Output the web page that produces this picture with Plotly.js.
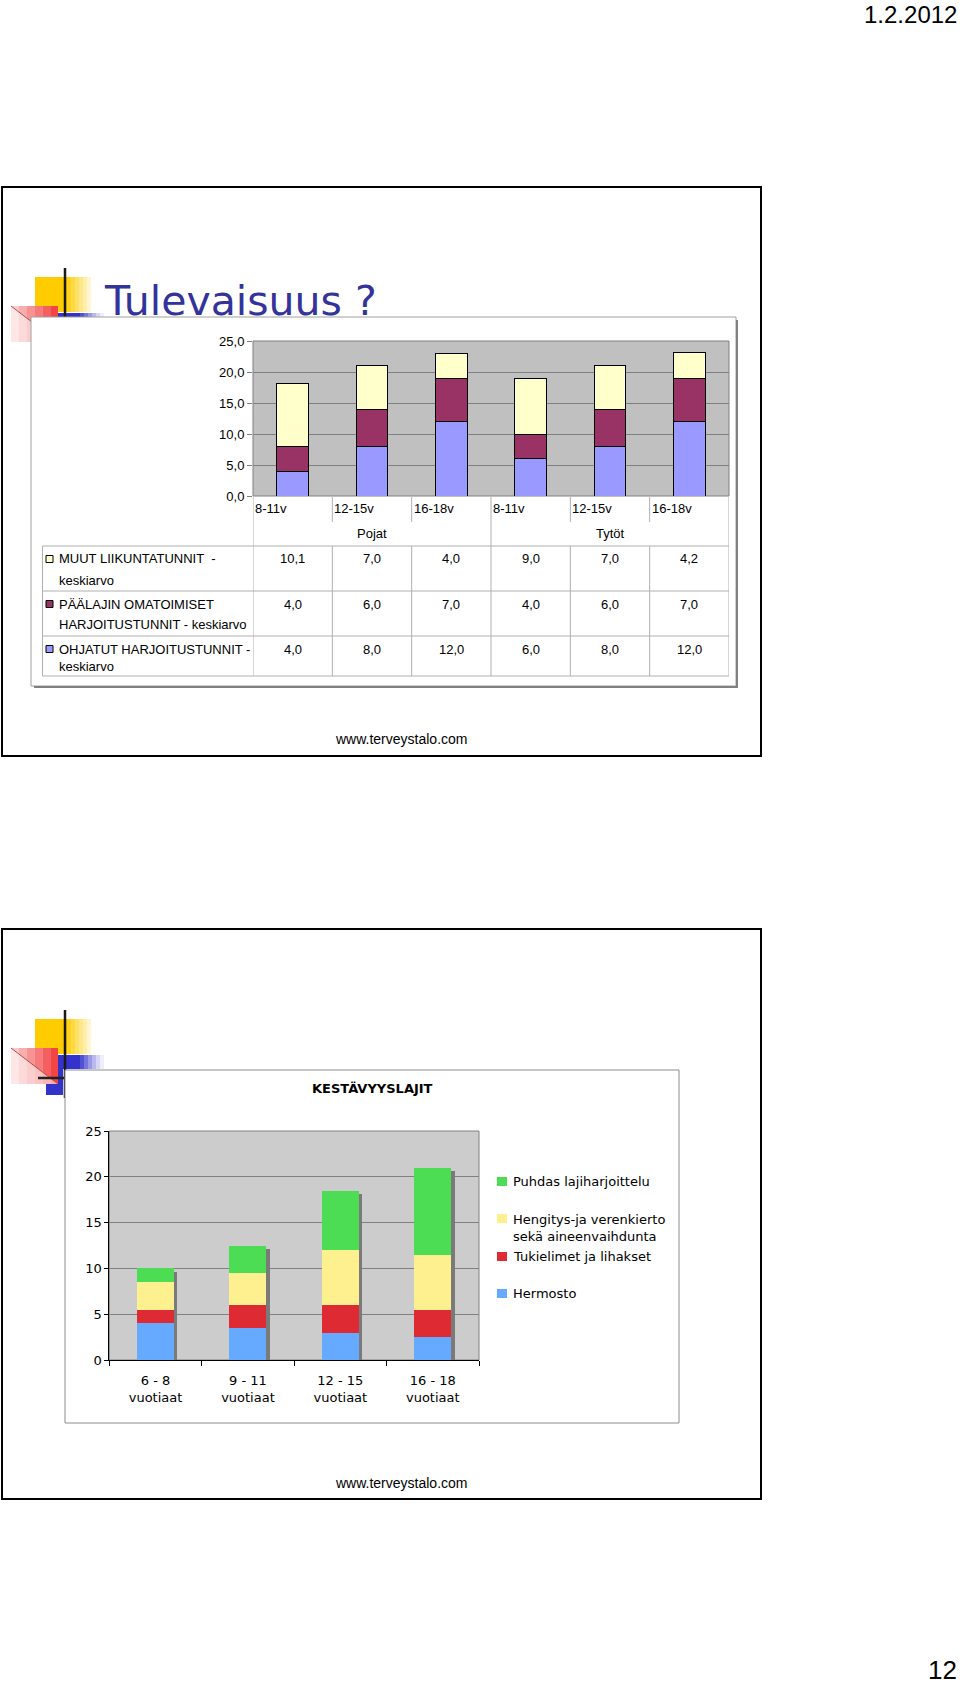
<!DOCTYPE html>
<html><head><meta charset="utf-8">
<script src="https://cdn.plot.ly/plotly-3.0.1.min.js"></script>
<style>html,body{margin:0;padding:0;background:#fff}#chart{width:960px;height:1684px}</style>
</head><body><div id="chart"></div>
<script>
// ---------- Chart 1 data (Tulevaisuus ?) ----------
const c1Categories = ['8-11v', '12-15v', '16-18v', '8-11v', '12-15v', '16-18v'];
const c1Groups = ['Pojat', 'Tytöt'];
const c1Muut = [10.1, 7.0, 4.0, 9.0, 7.0, 4.2];
const c1Paalajin = [4.0, 6.0, 7.0, 4.0, 6.0, 7.0];
const c1Ohjatut = [4.0, 8.0, 12.0, 6.0, 8.0, 12.0];
const c1RowLabels = [
  ['MUUT LIIKUNTATUNNIT  -', 'keskiarvo'],
  ['PÄÄLAJIN OMATOIMISET', 'HARJOITUSTUNNIT - keskiarvo'],
  ['OHJATUT HARJOITUSTUNNIT -', 'keskiarvo']
];
const c1YTicks = [0, 5, 10, 15, 20, 25];

// ---------- Chart 2 data (KESTÄVYYSLAJIT) ----------
const c2Categories = ['6 - 8<br>vuotiaat', '9 - 11<br>vuotiaat', '12 - 15<br>vuotiaat', '16 - 18<br>vuotiaat'];
const c2Hermosto = [4.0, 3.5, 3.0, 2.5];
const c2Tukielimet = [1.5, 2.5, 3.0, 3.0];
const c2Hengitys = [3.0, 3.5, 6.0, 6.0];
const c2Puhdas = [1.5, 3.0, 6.5, 9.5];
const c2Names = ['Puhdas lajiharjoittelu', 'Hengitys-ja verenkierto<br>sekä aineenvaihdunta', 'Tukielimet ja lihakset', 'Hermosto'];
const c2YTicks = [0, 5, 10, 15, 20, 25];

// ---------- helpers ----------
const W = 960, H = 1684;
const fx = v => v / W;
const fy = v => 1 - v / H;
const shapes = [];
const ann = [];
const ARIAL = 'Liberation Sans, Arial, sans-serif';
const VERD = 'DejaVu Sans, Verdana, sans-serif';
function rect(x0, y0, x1, y1, fill, lineColor, lw) {
  shapes.push({type: 'rect', xref: 'paper', yref: 'paper', x0: fx(x0), x1: fx(x1), y0: fy(y1), y1: fy(y0),
    fillcolor: fill || 'rgba(0,0,0,0)', line: {color: lineColor || 'rgba(0,0,0,0)', width: lw || 0}, layer: 'below'});
}
function line(x0, y0, x1, y1, color, w) {
  shapes.push({type: 'line', xref: 'paper', yref: 'paper', x0: fx(x0), x1: fx(x1), y0: fy(y0), y1: fy(y1),
    line: {color: color, width: w}, layer: 'below'});
}
function tri(pts, fill) {
  shapes.push({type: 'path', xref: 'paper', yref: 'paper',
    path: pts.map((p, i) => (i ? 'L ' : 'M ') + fx(p[0]) + ' ' + fy(p[1])).join(' ') + ' Z',
    fillcolor: fill, line: {width: 0}, layer: 'below'});
}
function text(t, x, y, opts) {
  ann.push(Object.assign({text: t, xref: 'paper', yref: 'paper', x: fx(x), y: fy(y), showarrow: false,
    xanchor: 'center', yanchor: 'middle', font: {family: ARIAL, size: 13, color: '#000'}}, opts || {}));
}
const fmt = v => v.toFixed(1).replace('.', ',');

// ---------- slide decorations ----------
function deco(t) {
  // yellow square fading to the right
  rect(35, t + 90, 67, t + 125, '#FFCC00');
  [0.88, 0.74, 0.6, 0.46, 0.32, 0.18].forEach((o, i) => rect(67 + i * 4, t + 90, 71 + i * 4, t + 125, 'rgba(255,204,0,' + o + ')'));
  // blue bar + blue square
  rect(47, t + 126, 80, t + 140, '#3333CC');
  [0.85, 0.68, 0.5, 0.34, 0.2, 0.08].forEach((o, i) => rect(80 + i * 4, t + 126, 84 + i * 4, t + 140, 'rgba(51,51,204,' + o + ')'));
  rect(46, t + 140, 63, t + 166, '#3333CC');
  // red square with gradient
  rect(11, t + 119, 58, t + 155, '#FFFFFF');
  [0.25, 0.38, 0.5, 0.62, 0.74, 0.86].forEach((o, i) => rect(11 + i * 47 / 6, t + 119, 11 + (i + 1) * 47 / 6, t + 155, 'rgba(240,40,40,' + o + ')'));
  tri([[11, t + 119], [58, t + 155], [11, t + 155]], 'rgba(255,255,255,0.55)');
  line(11, t + 119, 58, t + 155, '#B05050', 1);
  line(65, t + 81, 65, t + 169, '#1A1A1A', 2.5);
  line(38, t + 149, 65, t + 149, '#222', 2.5);
}
const S1 = 187, S2 = 929;
deco(S1);
deco(S2);

// slide frames
rect(2, S1, 761, 756, 'rgba(0,0,0,0)', '#000', 2);
rect(2, S2, 761, 1499, 'rgba(0,0,0,0)', '#000', 2);

// ---------- chart 1 box ----------
rect(31, 317, 736, 686, '#FFFFFF', '#A0A0A0', 1);
line(737, 320, 737, 688, '#808080', 2);
line(34, 687, 737, 687, '#808080', 2);
// plot background
rect(253, 341, 729, 496, '#C0C0C0', '#808080', 1);

// axis header + table lines (chart 1)
const TL = '#B0B0B0';
const n1 = c1Categories.length;
function vline(xd, y0, y1) {
  shapes.push({type: 'line', xref: 'x', yref: 'paper', x0: xd, x1: xd, y0: fy(y0), y1: fy(y1), line: {color: TL, width: 1}, layer: 'below'});
}
for (let i = 0; i <= n1; i++) {
  const xd = i - 0.5;
  if (i === 0 || i === n1 || i === n1 / 2) vline(xd, 497, 676);
  else { vline(xd, 497, 522); vline(xd, 546, 676); }
}
[546, 591, 636, 676].forEach(y => line(42.5, y, 729, y, TL, 1));
line(42.5, 546, 42.5, 676, TL, 1);

// category labels
c1Categories.forEach((c, i) => ann.push({text: c, xref: 'x', yref: 'paper', x: i - 0.5, y: fy(508.5), xanchor: 'left', yanchor: 'middle', showarrow: false, font: {family: ARIAL, size: 13, color: '#000'}}));
c1Groups.forEach((g, j) => ann.push({text: g, xref: 'x', yref: 'paper', x: j * 3 + 1, y: fy(533), xanchor: 'center', yanchor: 'middle', showarrow: false, font: {family: ARIAL, size: 13, color: '#000'}}));

// table rows
const c1Rows = [c1Muut, c1Paalajin, c1Ohjatut];
const c1Colors = ['#FFFFCC', '#993366', '#9999FF'];
const rowY = [559, 604, 649];
const rowY2 = [580, 625, 667];
c1Rows.forEach((vals, r) => {
  vals.forEach((v, i) => ann.push({text: fmt(v), xref: 'x', yref: 'paper', x: i, y: fy(rowY[r]), xanchor: 'center', yanchor: 'middle', showarrow: false, font: {family: ARIAL, size: 13, color: '#000'}}));
  rect(46, rowY[r] - 3.5, 53, rowY[r] + 3.5, c1Colors[r], '#000', 1);
  text(c1RowLabels[r][0], 56.5, rowY[r], {xanchor: 'left'});
  text(c1RowLabels[r][1], 56.5, rowY2[r], {xanchor: 'left'});
});

// slide 1 title + footer
text('Tulevaisuus ?', 102, 301, {xanchor: 'left', font: {family: VERD, size: 41, color: '#333399'}});
text('www.terveystalo.com', 401, 739, {font: {family: ARIAL, size: 14, color: '#000'}});

// ---------- chart 2 box ----------
rect(65, 1070, 679, 1423, '#FFFFFF', '#8C8C8C', 1);
rect(109.3, 1131, 479, 1360, '#CCCCCC', '#808080', 1);
text('<b>KESTÄVYYSLAJIT</b>', 372, 1088, {font: {family: VERD, size: 13, color: '#000'}});

const c2Colors = ['#4CDD55', '#FFF08F', '#DD2A33', '#66AAFF'];
const legY = [1181.5, 1218.5, 1256.5, 1293.5];
const legTextY = [1181.5, 1227.5, 1256.5, 1293.5];
c2Names.forEach((nm, k) => {
  rect(497, legY[k] - 4.5, 507, legY[k] + 4.5, c2Colors[k]);
  text(nm, 510.5, legTextY[k], {xanchor: 'left', align: 'left', font: {family: VERD, size: 13, color: '#000'}});
});
text('www.terveystalo.com', 401, 1483, {font: {family: ARIAL, size: 14, color: '#000'}});

// page date + number
text('1.2.2012', 959, 14.5, {xanchor: 'right', font: {family: ARIAL, size: 24, color: '#000'}});
text('12', 959, 1670, {xanchor: 'right', font: {family: ARIAL, size: 26, color: '#000'}});

// ---------- traces ----------
const c1x = c1Categories.map((_, i) => i);
const bar1 = (y, color) => ({type: 'bar', x: c1x, y: y, width: 0.4, xaxis: 'x', yaxis: 'y', marker: {color: color, line: {color: '#000', width: 1}}, hoverinfo: 'none'});
const c2Totals = c2Hermosto.map((v, i) => v + c2Tukielimet[i] + c2Hengitys[i] + c2Puhdas[i]);
const bar2 = (y, color) => ({type: 'bar', x: c2Categories, y: y, width: 0.4, xaxis: 'x2', yaxis: 'y2', marker: {color: color, line: {width: 0}}, hoverinfo: 'none'});
const data = [
  bar1(c1Ohjatut, '#9999FF'),
  bar1(c1Paalajin, '#993366'),
  bar1(c1Muut, '#FFFFCC'),
  {type: 'bar', x: c2Categories, y: c2Totals, base: -0.36, offset: -0.164, width: 0.4, xaxis: 'x2', yaxis: 'y2', marker: {color: '#7A7A7A', line: {width: 0}}, hoverinfo: 'none'},
  bar2(c2Hermosto, '#66AAFF'),
  bar2(c2Tukielimet, '#DD2A33'),
  bar2(c2Hengitys, '#FFF08F'),
  bar2(c2Puhdas, '#4CDD55')
];

const layout = {
  width: W, height: H, margin: {l: 0, r: 0, t: 0, b: 0},
  paper_bgcolor: '#FFFFFF', plot_bgcolor: 'rgba(0,0,0,0)',
  separators: ',.', barmode: 'stack', showlegend: false,
  font: {family: ARIAL, size: 13, color: '#000'},
  xaxis: {domain: [fx(253), fx(729)], range: [-0.5, 5.5], showticklabels: false, ticks: '', showgrid: false, zeroline: false, showline: false, anchor: 'y'},
  yaxis: {domain: [fy(496), fy(341)], range: [0, 25], tickvals: c1YTicks, tickformat: '.1f', ticks: 'outside', ticklen: 5, tickcolor: '#808080',
    showgrid: true, gridcolor: '#808080', gridwidth: 1, zeroline: false, showline: false, anchor: 'x', tickfont: {family: ARIAL, size: 13, color: '#000'}},
  xaxis2: {domain: [fx(109.3), fx(479)], type: 'category', tickson: 'boundaries', ticks: 'outside', ticklen: 5, tickcolor: '#000', ticklabelstandoff: 8,
    showline: true, linecolor: '#000', linewidth: 1, anchor: 'y2', showgrid: false, zeroline: false, tickfont: {family: VERD, size: 13, color: '#000'}},
  yaxis2: {domain: [fy(1360), fy(1131)], range: [0, 25], tickvals: c2YTicks, ticks: 'outside', ticklen: 4, tickcolor: '#000',
    showline: true, linecolor: '#000', linewidth: 1, anchor: 'x2', showgrid: true, gridcolor: '#808080', gridwidth: 1, zeroline: false, tickfont: {family: VERD, size: 13, color: '#000'}},
  shapes: shapes,
  annotations: ann
};
Plotly.newPlot('chart', data, layout, {staticPlot: true, displayModeBar: false});
</script>
</body></html>
